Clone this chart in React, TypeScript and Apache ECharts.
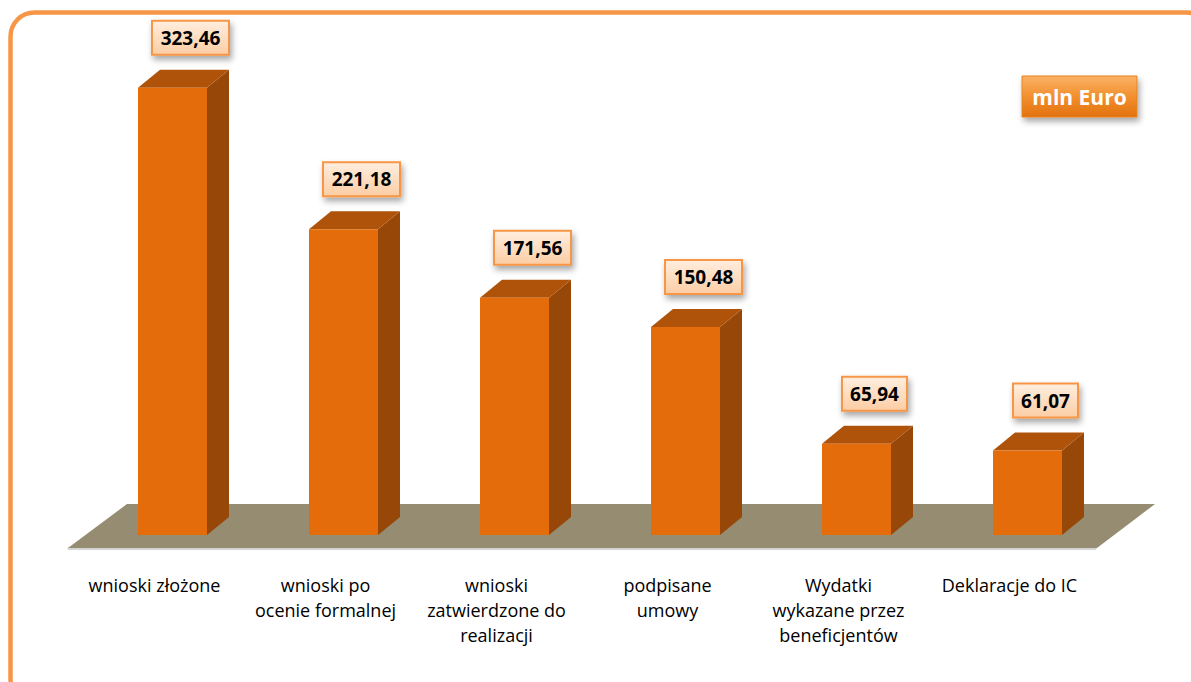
import React, { useEffect, useRef } from "react";
import * as echarts from "echarts";

const categories = [
  "wnioski złożone",
  "wnioski po\nocenie formalnej",
  "wnioski\nzatwierdzone do\nrealizacji",
  "podpisane\numowy",
  "Wydatki\nwykazane przez\nbeneficjentów",
  "Deklaracje do IC",
];
const values = [323.46, 221.18, 171.56, 150.48, 65.94, 61.07];
const valueLabels = ["323,46", "221,18", "171,56", "150,48", "65,94", "61,07"];
const unitLabel = "mln Euro";

export default function App() {
  const ref = useRef<HTMLDivElement>(null);
  useEffect(() => {
    if (!ref.current) return;
    const chart = echarts.init(ref.current, null, { renderer: "svg" });
    const option: any = {
      animation: false,
      backgroundColor: "#ffffff",
      grid: { left: 69, right: 96, top: 64, bottom: 134 },
      xAxis: {
        type: "category",
        data: categories,
        offset: 2,
        axisLine: { lineStyle: { color: "#d4d4d4", width: 3 } },
        axisTick: { length: 6, lineStyle: { color: "#8c8c8c", width: 2 } },
        axisLabel: {
          interval: 0,
          margin: 22,
          color: "#000",
          fontFamily: "Open Sans",
          fontSize: 18,
          lineHeight: 25,
          verticalAlign: "top",
        },
      },
      yAxis: { type: "value", min: 0, max: 350, show: false },
      series: [
        {
          type: "custom",
          z: 1,
          data: [[0, 0]],
          renderItem: (params: any) => {
            const cs = params.coordSys;
            const l = cs.x - 1;
            const r = cs.x + cs.width + 2;
            const b = cs.y + cs.height;
            return {
              type: "polygon",
              shape: {
                points: [
                  [l, b],
                  [l + 59, b - 44],
                  [r + 58, b - 44],
                  [r, b],
                ],
              },
              style: { fill: "#958C72" },
            };
          },
        },
        {
          type: "custom",
          z: 3,
          data: values.map((v, i) => [i, v]),
          encode: { x: 0, y: 1 },
          renderItem: (params: any, api: any) => {
            const idx = api.value(0);
            const v = api.value(1);
            const base = api.coord([idx, 0]);
            const top = api.coord([idx, v]);
            const h = base[1] - top[1];
            const w = 69;
            const x0 = base[0] - 16.5;
            const yb = base[1] - 13;
            const yt = yb - h;
            const dx = 22;
            const dy = -18;
            const txt = valueLabels[params.dataIndex];
            const lw = 12 * txt.length + 5;
            const cx = base[0] + 36;
            const by = yt - 33;
            return {
              type: "group",
              children: [
                {
                  type: "polygon",
                  shape: {
                    points: [
                      [x0 + w, yb],
                      [x0 + w + dx, yb + dy],
                      [x0 + w + dx, yt + dy],
                      [x0 + w, yt],
                    ],
                  },
                  style: { fill: "#974707" },
                },
                {
                  type: "polygon",
                  shape: {
                    points: [
                      [x0, yt],
                      [x0 + dx, yt + dy],
                      [x0 + w + dx, yt + dy],
                      [x0 + w, yt],
                    ],
                  },
                  style: { fill: "#AE5309" },
                },
                {
                  type: "rect",
                  shape: { x: x0, y: yt, width: w, height: h },
                  style: { fill: "#E46C0A" },
                },
                {
                  type: "rect",
                  shape: { x: cx - lw / 2, y: by - 34, width: lw, height: 34 },
                  style: {
                    fill: new echarts.graphic.LinearGradient(0, 0, 0, 1, [
                      { offset: 0, color: "#FFEEDF" },
                      { offset: 1, color: "#FCCDA4" },
                    ]),
                    stroke: "#F79646",
                    lineWidth: 2,
                    shadowBlur: 6,
                    shadowOffsetX: 2,
                    shadowOffsetY: 4,
                    shadowColor: "rgba(0,0,0,0.35)",
                  },
                },
                {
                  type: "text",
                  style: {
                    text: txt,
                    x: cx,
                    y: by - 17,
                    textAlign: "center",
                    textVerticalAlign: "middle",
                    font: "bold 19px 'Open Sans'",
                    fill: "#000",
                  },
                },
              ],
            };
          },
        },
      ],
      graphic: [
        {
          type: "rect",
          shape: { x: 10.5, y: 12.5, width: 1200, height: 690, r: 24 },
          style: { fill: "none", stroke: "#F79646", lineWidth: 4.5 },
          z: 10,
        },
        {
          type: "group",
          x: 1022,
          y: 76,
          z: 10,
          children: [
            {
              type: "rect",
              shape: { x: 0, y: 0, width: 115, height: 41 },
              style: {
                fill: new echarts.graphic.LinearGradient(0, 0, 0, 1, [
                  { offset: 0, color: "#FBB267" },
                  { offset: 0.5, color: "#F28F2E" },
                  { offset: 1, color: "#E3720F" },
                ]),
                stroke: "#E8821F",
                lineWidth: 1,
                shadowBlur: 6,
                shadowOffsetX: 2,
                shadowOffsetY: 4,
                shadowColor: "rgba(0,0,0,0.35)",
              },
            },
            {
              type: "text",
              style: {
                text: unitLabel,
                x: 57.5,
                y: 21,
                textAlign: "center",
                textVerticalAlign: "middle",
                font: "bold 21px 'Open Sans'",
                fill: "#ffffff",
              },
            },
          ],
        },
      ],
    };
    chart.setOption(option);
    return () => chart.dispose();
  }, []);
  return (
    <div
      ref={ref}
      style={{ position: "fixed", left: 0, top: 0, width: 1191, height: 682 }}
    />
  );
}
